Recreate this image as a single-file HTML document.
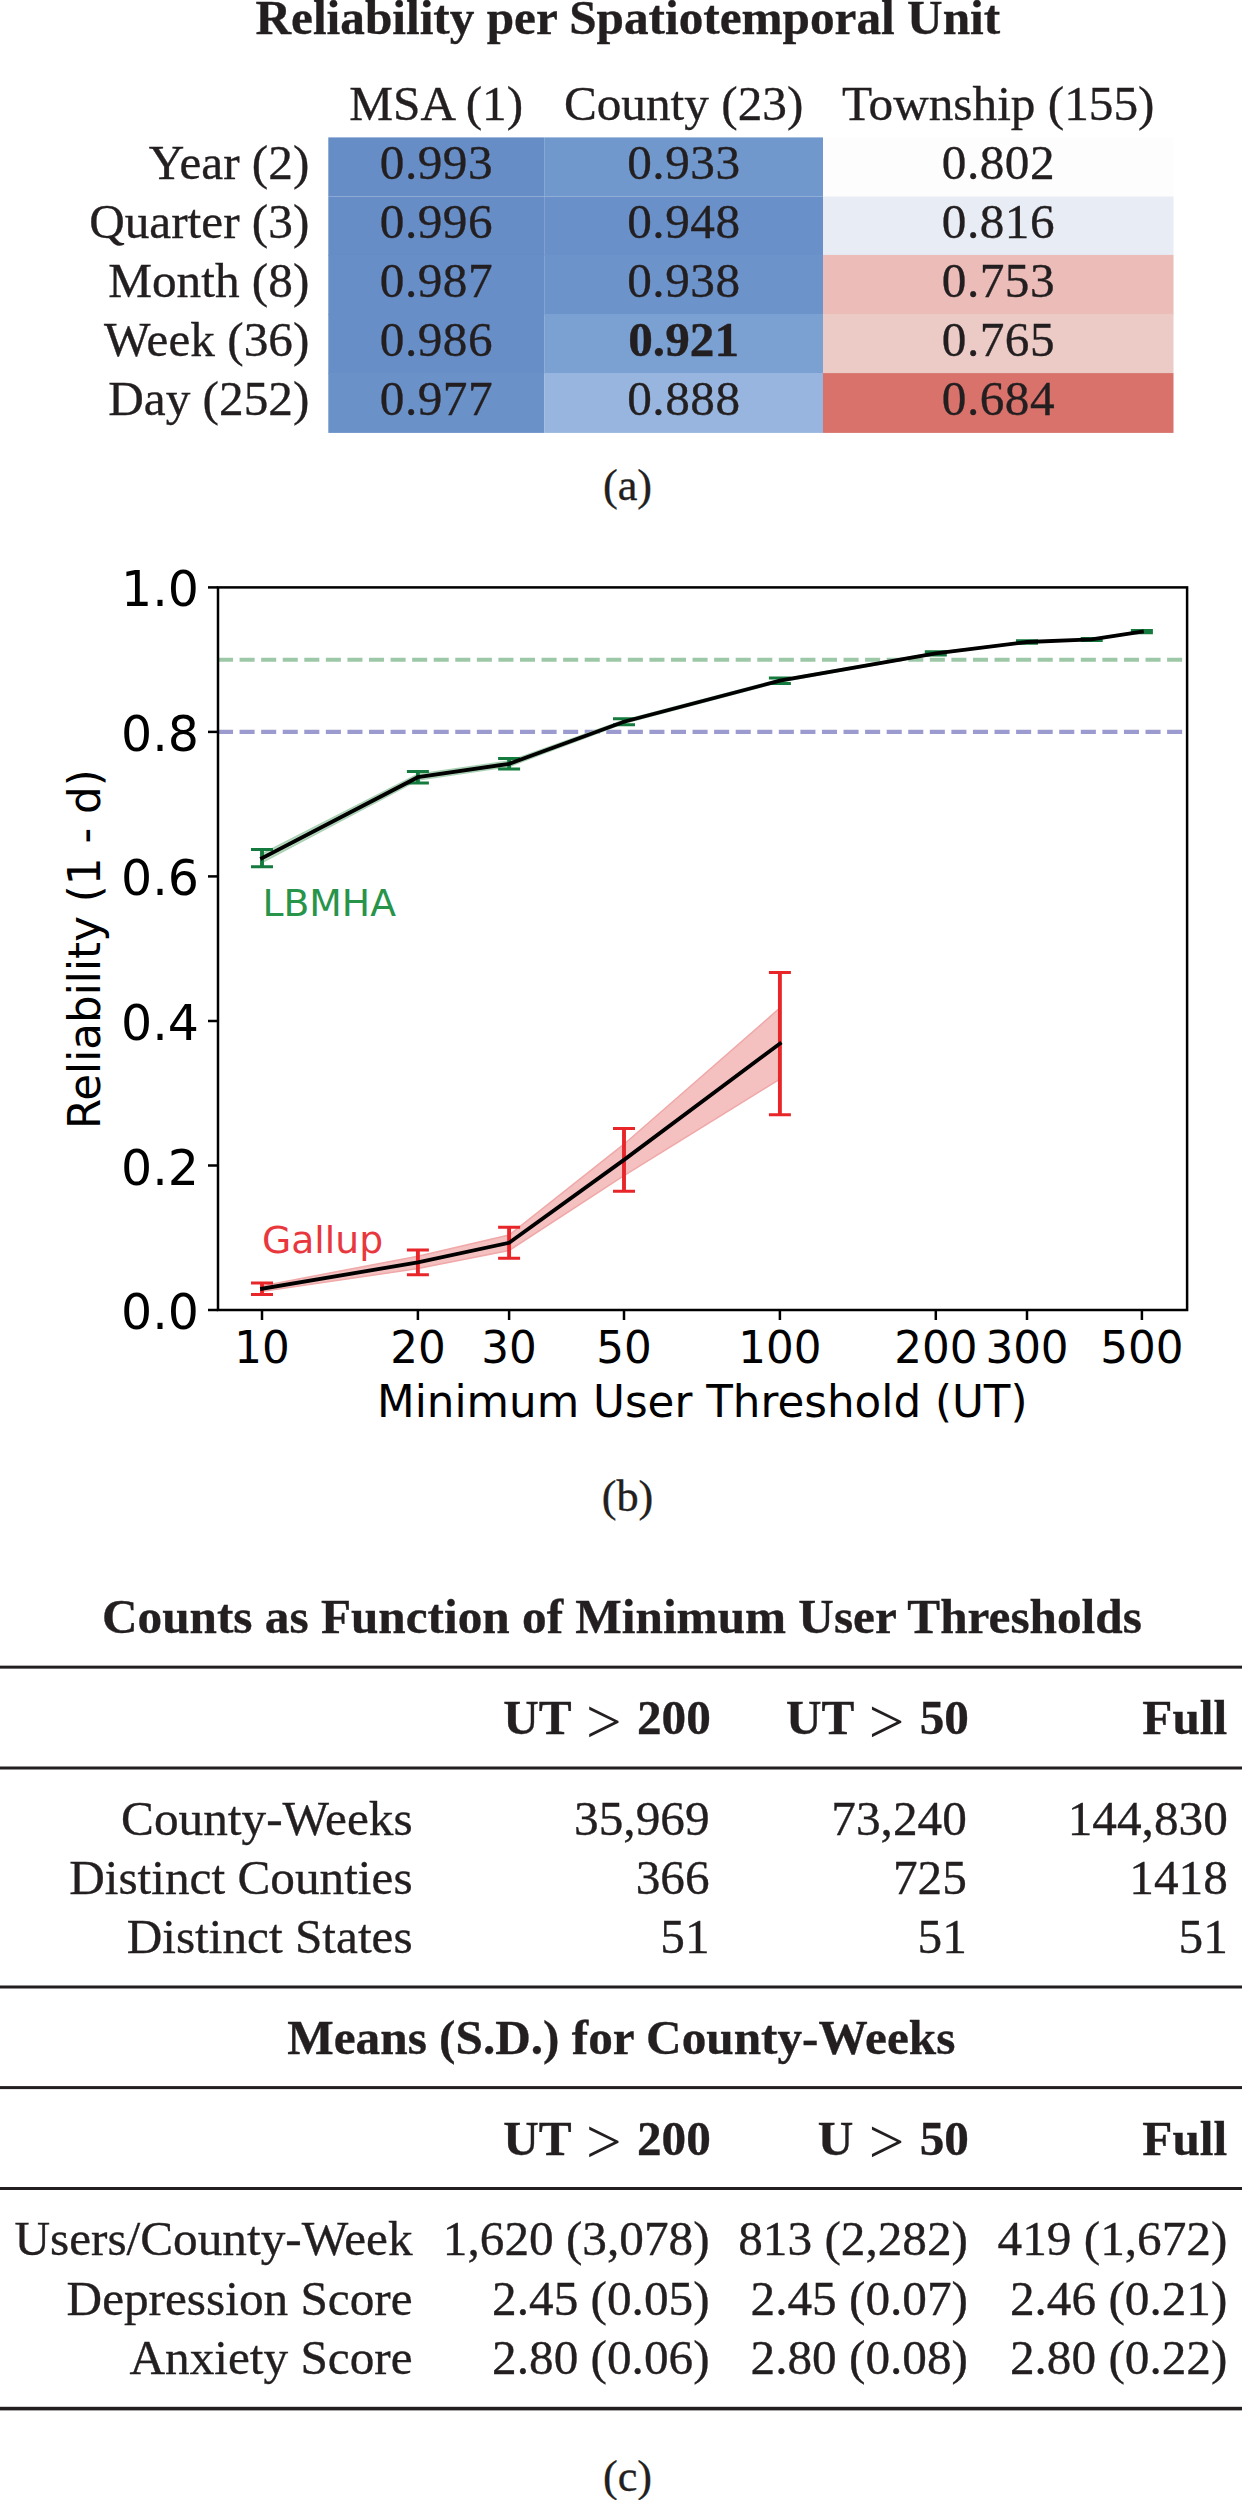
<!DOCTYPE html>
<html lang="en">
<head>
<meta charset="utf-8">
<title>Reliability per Spatiotemporal Unit</title>
<style>
html,body{margin:0;padding:0;background:#fff;}
body{width:1242px;height:2500px;position:relative;overflow:hidden;font-family:"Liberation Serif", "DejaVu Serif", serif;color:#231f20;}
.t{position:absolute;white-space:nowrap;line-height:1;font-size:49.25px;-webkit-text-stroke:0.35px #231f20;}
.b{font-weight:bold;}
.c{transform:translateX(-50%);}
.r{transform:translateX(-100%);}
.cell{position:absolute;}
.gt{-webkit-text-stroke:0;display:inline-block;width:41.6px;text-align:center;font-weight:normal;font-size:63px;line-height:0;position:relative;top:8.8px;}
.n{letter-spacing:0.5px;margin-left:0.25px;}
.rule{position:absolute;left:0;width:1242px;background:#231f20;}
svg{position:absolute;left:0;top:0;}
svg text{font-family:"DejaVu Sans", "Liberation Sans", sans-serif;}
</style>
</head>
<body>

<!-- panel a -->
<div class="t b c" style="left:627.8px;top:-7.4px;">Reliability per Spatiotemporal Unit</div>
<svg width="1242" height="460" viewBox="0 0 1242 460">
<rect x="328.3" y="137.4" width="215.9" height="59.1" fill="#668dc6"/>
<rect x="544.2" y="137.4" width="278.8" height="59.1" fill="#7198cc"/>
<rect x="823.0" y="137.4" width="350.5" height="59.1" fill="#fdfdfd"/>
<rect x="328.3" y="196.5" width="215.9" height="59.1" fill="#668dc6"/>
<rect x="544.2" y="196.5" width="278.8" height="59.1" fill="#6990c8"/>
<rect x="823.0" y="196.5" width="350.5" height="59.1" fill="#e7ecf5"/>
<rect x="328.3" y="254.9" width="215.9" height="59.8" fill="#678ec7"/>
<rect x="544.2" y="254.9" width="278.8" height="59.8" fill="#6c93ca"/>
<rect x="823.0" y="254.9" width="350.5" height="59.8" fill="#ebbcb8"/>
<rect x="328.3" y="314.0" width="215.9" height="59.8" fill="#678ec7"/>
<rect x="544.2" y="314.0" width="278.8" height="59.8" fill="#7ba0d2"/>
<rect x="823.0" y="314.0" width="350.5" height="59.8" fill="#eccbc7"/>
<rect x="328.3" y="373.1" width="215.9" height="59.8" fill="#6a91c8"/>
<rect x="544.2" y="373.1" width="278.8" height="59.8" fill="#97b5de"/>
<rect x="823.0" y="373.1" width="350.5" height="59.8" fill="#d8726b"/>
</svg>
<div class="t c" style="left:436.2px;top:78.8px;">MSA (1)</div>
<div class="t c" style="left:683.6px;top:78.8px;">County (23)</div>
<div class="t c" style="left:998.2px;top:78.8px;">Township (155)</div>
<div class="t r" style="left:309.3px;top:137.7px;">Year (2)</div>
<div class="t c n" style="left:436.2px;top:137.7px;">0.993</div>
<div class="t c n" style="left:683.6px;top:137.7px;">0.933</div>
<div class="t c n" style="left:998.2px;top:137.7px;">0.802</div>
<div class="t r" style="left:309.3px;top:196.8px;">Quarter (3)</div>
<div class="t c n" style="left:436.2px;top:196.8px;">0.996</div>
<div class="t c n" style="left:683.6px;top:196.8px;">0.948</div>
<div class="t c n" style="left:998.2px;top:196.8px;">0.816</div>
<div class="t r" style="left:309.3px;top:255.9px;">Month (8)</div>
<div class="t c n" style="left:436.2px;top:255.9px;">0.987</div>
<div class="t c n" style="left:683.6px;top:255.9px;">0.938</div>
<div class="t c n" style="left:998.2px;top:255.9px;">0.753</div>
<div class="t r" style="left:309.3px;top:315.0px;">Week (36)</div>
<div class="t c n" style="left:436.2px;top:315.0px;">0.986</div>
<div class="t c" style="left:683.6px;top:315.0px;"><b>0.921</b></div>
<div class="t c n" style="left:998.2px;top:315.0px;">0.765</div>
<div class="t r" style="left:309.3px;top:374.1px;">Day (252)</div>
<div class="t c n" style="left:436.2px;top:374.1px;">0.977</div>
<div class="t c n" style="left:683.6px;top:374.1px;">0.888</div>
<div class="t c n" style="left:998.2px;top:374.1px;">0.684</div>
<div class="t c" style="left:627.5px;top:463.6px;font-size:44.30px;">(a)</div>
<!-- panel b -->
<svg width="1242" height="2500" viewBox="0 0 1242 2500">
<line x1="218.0" y1="659.7" x2="1187.1" y2="659.7" stroke="#9dc8a8" stroke-width="4.07" stroke-dasharray="15.06 6.51"/>
<line x1="218.0" y1="731.9" x2="1187.1" y2="731.9" stroke="#9b9bd0" stroke-width="4.07" stroke-dasharray="15.06 6.51"/>
<polygon points="262.0,853.8 417.9,774.3 509.1,761.1 624.0,720.2 779.9,679.4 935.8,652.5 1027.0,641.4 1091.7,638.9 1141.9,631.0 1141.9,632.2 1091.7,639.9 1027.0,642.6 935.8,654.1 779.9,682.1 624.0,723.2 509.1,766.4 417.9,780.1 262.0,862.4" fill="#bcdcc4" stroke="#a9d0b3" stroke-width="1.5"/>
<polygon points="262.0,1285.9 417.9,1256.2 509.1,1235.0 624.0,1144.2 779.9,1008.0 779.9,1079.1 624.0,1175.6 509.1,1250.5 417.9,1268.6 262.0,1291.5" fill="#f4c0c0" stroke="#f0a8a8" stroke-width="1.5"/>
<path d="M262.0 849.5V866.7" stroke="#147a3d" stroke-width="3.9" fill="none"/><path d="M251.0 849.5H273.0M251.0 866.7H273.0" stroke="#147a3d" stroke-width="3" fill="none"/>
<path d="M417.9 771.4V783.0" stroke="#147a3d" stroke-width="3.9" fill="none"/><path d="M406.9 771.4H428.9M406.9 783.0H428.9" stroke="#147a3d" stroke-width="3" fill="none"/>
<path d="M509.1 758.5V769.1" stroke="#147a3d" stroke-width="3.9" fill="none"/><path d="M498.1 758.5H520.1M498.1 769.1H520.1" stroke="#147a3d" stroke-width="3" fill="none"/>
<path d="M624.0 718.7V724.7" stroke="#147a3d" stroke-width="3.9" fill="none"/><path d="M613.0 718.7H635.0M613.0 724.7H635.0" stroke="#147a3d" stroke-width="3" fill="none"/>
<path d="M779.9 678.0V683.4" stroke="#147a3d" stroke-width="3.9" fill="none"/><path d="M768.9 678.0H790.9M768.9 683.4H790.9" stroke="#147a3d" stroke-width="3" fill="none"/>
<path d="M935.8 651.7V654.9" stroke="#147a3d" stroke-width="3.9" fill="none"/><path d="M924.8 651.7H946.8M924.8 654.9H946.8" stroke="#147a3d" stroke-width="3" fill="none"/>
<path d="M1027.0 640.8V643.2" stroke="#147a3d" stroke-width="3.9" fill="none"/><path d="M1016.0 640.8H1038.0M1016.0 643.2H1038.0" stroke="#147a3d" stroke-width="3" fill="none"/>
<path d="M1091.7 638.4V640.4" stroke="#147a3d" stroke-width="3.9" fill="none"/><path d="M1080.7 638.4H1102.7M1080.7 640.4H1102.7" stroke="#147a3d" stroke-width="3" fill="none"/>
<path d="M1141.9 630.4V632.8" stroke="#147a3d" stroke-width="3.9" fill="none"/><path d="M1130.9 630.4H1152.9M1130.9 632.8H1152.9" stroke="#147a3d" stroke-width="3" fill="none"/>
<path d="M262.0 1283.0V1294.4" stroke="#e8262a" stroke-width="3.9" fill="none"/><path d="M251.0 1283.0H273.0M251.0 1294.4H273.0" stroke="#e8262a" stroke-width="3" fill="none"/>
<path d="M417.9 1250.0V1274.8" stroke="#e8262a" stroke-width="3.9" fill="none"/><path d="M406.9 1250.0H428.9M406.9 1274.8H428.9" stroke="#e8262a" stroke-width="3" fill="none"/>
<path d="M509.1 1227.3V1258.3" stroke="#e8262a" stroke-width="3.9" fill="none"/><path d="M498.1 1227.3H520.1M498.1 1258.3H520.1" stroke="#e8262a" stroke-width="3" fill="none"/>
<path d="M624.0 1128.6V1191.2" stroke="#e8262a" stroke-width="3.9" fill="none"/><path d="M613.0 1128.6H635.0M613.0 1191.2H635.0" stroke="#e8262a" stroke-width="3" fill="none"/>
<path d="M779.9 972.5V1114.7" stroke="#e8262a" stroke-width="3.9" fill="none"/><path d="M768.9 972.5H790.9M768.9 1114.7H790.9" stroke="#e8262a" stroke-width="3" fill="none"/>
<polyline points="262.0,858.1 417.9,777.2 509.1,763.8 624.0,721.7 779.9,680.7 935.8,653.3 1027.0,642.0 1091.7,639.4 1141.9,631.6" fill="none" stroke="#000" stroke-width="3.8" stroke-linejoin="miter" stroke-linecap="square"/>
<polyline points="262.0,1288.7 417.9,1262.4 509.1,1242.8 624.0,1159.9 779.9,1043.6" fill="none" stroke="#000" stroke-width="3.8" stroke-linejoin="miter" stroke-linecap="square"/>
<rect x="218.0" y="587.4" width="969.1" height="722.6" fill="none" stroke="#000" stroke-width="2.5"/>
<line x1="262.0" y1="1310.0" x2="262.0" y2="1320.0" stroke="#000" stroke-width="2.5"/>
<text x="262.0" y="1363.0" font-size="43.6" text-anchor="middle">10</text>
<line x1="417.9" y1="1310.0" x2="417.9" y2="1320.0" stroke="#000" stroke-width="2.5"/>
<text x="417.9" y="1363.0" font-size="43.6" text-anchor="middle">20</text>
<line x1="509.1" y1="1310.0" x2="509.1" y2="1320.0" stroke="#000" stroke-width="2.5"/>
<text x="509.1" y="1363.0" font-size="43.6" text-anchor="middle">30</text>
<line x1="624.0" y1="1310.0" x2="624.0" y2="1320.0" stroke="#000" stroke-width="2.5"/>
<text x="624.0" y="1363.0" font-size="43.6" text-anchor="middle">50</text>
<line x1="779.9" y1="1310.0" x2="779.9" y2="1320.0" stroke="#000" stroke-width="2.5"/>
<text x="779.9" y="1363.0" font-size="43.6" text-anchor="middle">100</text>
<line x1="935.8" y1="1310.0" x2="935.8" y2="1320.0" stroke="#000" stroke-width="2.5"/>
<text x="935.8" y="1363.0" font-size="43.6" text-anchor="middle">200</text>
<line x1="1027.0" y1="1310.0" x2="1027.0" y2="1320.0" stroke="#000" stroke-width="2.5"/>
<text x="1027.0" y="1363.0" font-size="43.6" text-anchor="middle">300</text>
<line x1="1141.9" y1="1310.0" x2="1141.9" y2="1320.0" stroke="#000" stroke-width="2.5"/>
<text x="1141.9" y="1363.0" font-size="43.6" text-anchor="middle">500</text>
<line x1="208.0" y1="1310.0" x2="218.0" y2="1310.0" stroke="#000" stroke-width="2.5"/>
<text x="199.0" y="1329.0" font-size="49" text-anchor="end">0.0</text>
<line x1="208.0" y1="1165.5" x2="218.0" y2="1165.5" stroke="#000" stroke-width="2.5"/>
<text x="199.0" y="1184.5" font-size="49" text-anchor="end">0.2</text>
<line x1="208.0" y1="1021.0" x2="218.0" y2="1021.0" stroke="#000" stroke-width="2.5"/>
<text x="199.0" y="1040.0" font-size="49" text-anchor="end">0.4</text>
<line x1="208.0" y1="876.4" x2="218.0" y2="876.4" stroke="#000" stroke-width="2.5"/>
<text x="199.0" y="895.4" font-size="49" text-anchor="end">0.6</text>
<line x1="208.0" y1="731.9" x2="218.0" y2="731.9" stroke="#000" stroke-width="2.5"/>
<text x="199.0" y="750.9" font-size="49" text-anchor="end">0.8</text>
<line x1="208.0" y1="587.4" x2="218.0" y2="587.4" stroke="#000" stroke-width="2.5"/>
<text x="199.0" y="606.4" font-size="49" text-anchor="end">1.0</text>
<text x="702.3" y="1417" font-size="43.6" text-anchor="middle">Minimum User Threshold (UT)</text>
<text transform="translate(99.9,949.2) rotate(-90)" font-size="43.6" text-anchor="middle">Reliability (1 - d)</text>
<text x="262.5" y="916.4" font-size="37.7" fill="#27944a">LBMHA</text>
<text x="262" y="1252.5" font-size="37.7" fill="#e8383e">Gallup</text>
</svg>
<div class="t c" style="left:627.5px;top:1475.3px;font-size:44.30px;">(b)</div>
<!-- panel c -->
<div class="t b c" style="left:621.9px;top:1592.2px;">Counts as Function of Minimum User Thresholds</div>
<svg width="1242" height="2500" viewBox="0 0 1242 2500"><rect x="0" y="1665.65" width="1242" height="3.0" fill="#231f20"/><rect x="0" y="1766.50" width="1242" height="3.0" fill="#231f20"/><rect x="0" y="1985.50" width="1242" height="3.0" fill="#231f20"/><rect x="0" y="2086.10" width="1242" height="3.0" fill="#231f20"/><rect x="0" y="2187.00" width="1242" height="3.0" fill="#231f20"/><rect x="0" y="2406.80" width="1242" height="3.6" fill="#231f20"/></svg>
<div class="t r b" style="left:710.8px;top:1693.1px;">UT <span class="gt">&gt;</span> 200</div>
<div class="t r b" style="left:968.9px;top:1693.1px;">UT <span class="gt">&gt;</span> 50</div>
<div class="t r b" style="left:1227.2px;top:1693.1px;">Full</div>
<div class="t r" style="left:412.6px;top:1793.9px;">County-Weeks</div>
<div class="t r" style="left:709.5px;top:1793.9px;">35,969</div>
<div class="t r" style="left:966.8px;top:1793.9px;">73,240</div>
<div class="t r" style="left:1227.8px;top:1793.9px;">144,830</div>
<div class="t r" style="left:412.6px;top:1853.0px;">Distinct Counties</div>
<div class="t r" style="left:709.5px;top:1853.0px;">366</div>
<div class="t r" style="left:966.8px;top:1853.0px;">725</div>
<div class="t r" style="left:1227.8px;top:1853.0px;">1418</div>
<div class="t r" style="left:412.6px;top:1912.1px;">Distinct States</div>
<div class="t r" style="left:709.5px;top:1912.1px;">51</div>
<div class="t r" style="left:966.8px;top:1912.1px;">51</div>
<div class="t r" style="left:1227.8px;top:1912.1px;">51</div>
<div class="t b c" style="left:621.3px;top:2012.7px;">Means (S.D.) for County-Weeks</div>
<div class="t r b" style="left:710.8px;top:2113.6px;">UT <span class="gt">&gt;</span> 200</div>
<div class="t r b" style="left:968.9px;top:2113.6px;">U <span class="gt">&gt;</span> 50</div>
<div class="t r b" style="left:1227.2px;top:2113.6px;">Full</div>
<div class="t r" style="left:412.6px;top:2214.1px;">Users/County-Week</div>
<div class="t r" style="left:709.6px;top:2214.1px;">1,620 (3,078)</div>
<div class="t r" style="left:968.0px;top:2214.1px;">813 (2,282)</div>
<div class="t r" style="left:1227.4px;top:2214.1px;">419 (1,672)</div>
<div class="t r" style="left:412.6px;top:2273.5px;">Depression Score</div>
<div class="t r" style="left:709.6px;top:2273.5px;">2.45 (0.05)</div>
<div class="t r" style="left:968.0px;top:2273.5px;">2.45 (0.07)</div>
<div class="t r" style="left:1227.4px;top:2273.5px;">2.46 (0.21)</div>
<div class="t r" style="left:412.6px;top:2332.6px;">Anxiety Score</div>
<div class="t r" style="left:709.6px;top:2332.6px;">2.80 (0.06)</div>
<div class="t r" style="left:968.0px;top:2332.6px;">2.80 (0.08)</div>
<div class="t r" style="left:1227.4px;top:2332.6px;">2.80 (0.22)</div>
<div class="t c" style="left:627.5px;top:2455.3px;font-size:44.30px;">(c)</div>
</body>
</html>
